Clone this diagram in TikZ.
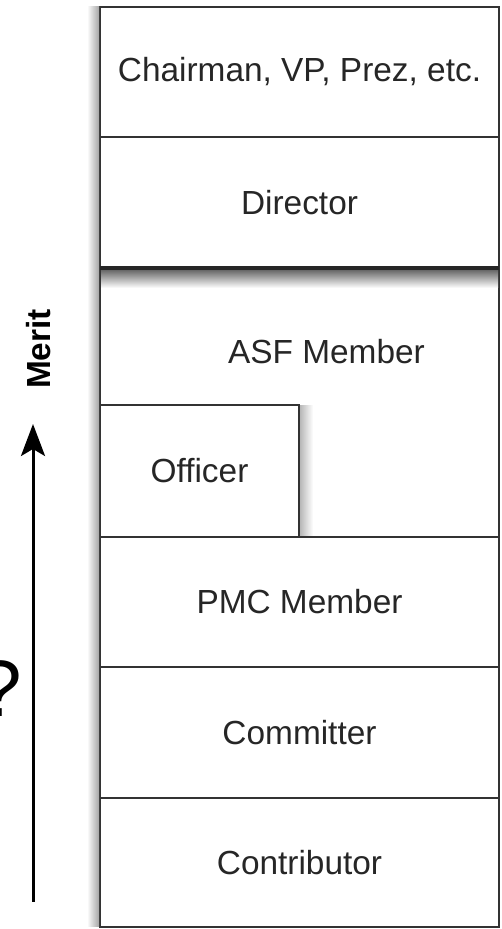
\documentclass[tikz,border=0pt]{standalone}
\usepackage{fontspec}
\setmainfont{Liberation Sans}
\usepackage{tikz}
\usetikzlibrary{calc,arrows.meta,positioning}
\newcommand\tierfont{\fontsize{33.4}{40}\selectfont}
\tikzset{
  tier/.style={draw=black!80, line width=2pt, fill=white, outer sep=0pt, inner sep=0pt, minimum width=399pt, text=black!85, font=\tierfont},
  officerbox/.style={tier, minimum width=199pt, minimum height=132pt},
  tiertext/.style={font=\tierfont, text=black!85, inner sep=0pt},
  meritlabel/.style={rotate=90, anchor=base, font=\tierfont\bfseries, inner sep=0pt},
  meritarrow/.style={line width=3pt, -{Stealth[length=32pt,width=24pt,inset=7pt]}},
  leftshade/.style={left color=white, right color=black!35},
  downshade/.style={top color=black!60, bottom color=white},
  rightshade/.style={left color=black!28, right color=white}
}

\begin{document}
\begin{tikzpicture}[x=1pt,y=1pt]
\useasboundingbox (0,0) rectangle (501,929);
% the ladder, top to bottom
\node[tier, minimum height=130pt] (chair) at (299.5,857) {Chairman, VP, Prez, etc.};
\node[tier, minimum height=131pt, below=0pt of chair] (director) {Director};
\node[tier, minimum height=269pt, below=0pt of director] (asf) {};
\node[officerbox, anchor=south west] (officer) at (asf.south west) {Officer};
\node[tier, minimum height=130pt, below=0pt of asf] (pmc) {PMC Member};
\node[tier, minimum height=131pt, below=0pt of pmc] (committer) {Committer};
\node[tier, minimum height=129pt, below=0pt of committer] (contrib) {Contributor};
\node[tiertext] (asftext) at ($(asf.north)+(27,-84)$) {ASF Member};
% shadows
\shade[downshade] ($(director.south west)+(1,-1.75)$) rectangle ($(director.south east)+(-1,-20)$);
\draw[line width=3.5pt, draw=black!85] (director.south west) -- (director.south east);
\shade[rightshade] ($(officer.north east)+(1,-1)$) rectangle ($(officer.south east)+(14,1)$);
\shade[leftshade] ($(chair.north west)+(-13,0)$) rectangle ($(contrib.south west)+(-1,0)$);
% merit axis
\coordinate (arrowtail) at (33,27);
\coordinate (arrowtip) at (33,505);
\draw[meritarrow] (arrowtail) -- (arrowtip);
\node[meritlabel] (merit) at (50,580) {Merit};
\node[font=\fontsize{80}{90}\selectfont, anchor=base, inner sep=0pt] (query) at (0,212) {?};
\end{tikzpicture}
\end{document}
